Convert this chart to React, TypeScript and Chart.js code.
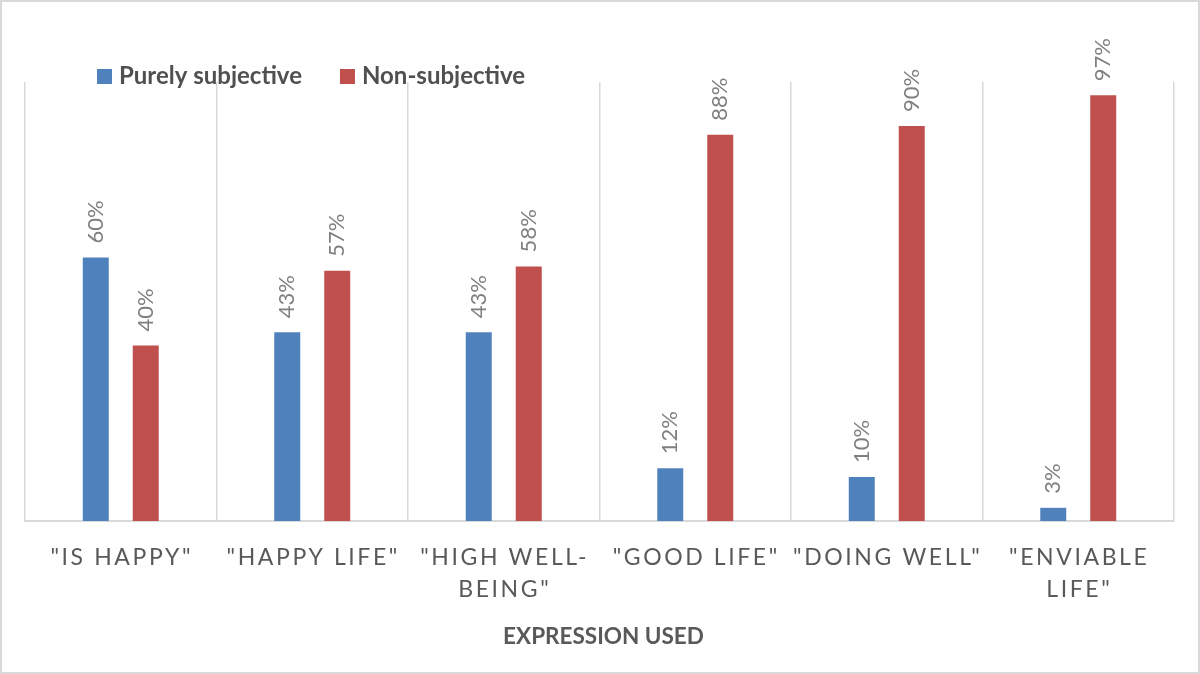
import React, { useEffect, useRef } from "react";
import { Chart, registerables } from "chart.js";
Chart.register(...registerables);

const categories: string[][] = [
  ['"IS HAPPY"'],
  ['"HAPPY LIFE"'],
  ['"HIGH WELL-', 'BEING"'],
  ['"GOOD LIFE"'],
  ['"DOING WELL"'],
  ['"ENVIABLE', 'LIFE"'],
];
const seriesNames = ["Purely subjective", "Non-subjective"];
const purelySubjective = [60, 43, 43, 12, 10, 3];
const nonSubjective = [40, 57, 58, 88, 90, 97];
const axisTitle = "EXPRESSION USED";

const BLUE = "#4F81BD";
const RED = "#C0504D";

const textPlugin = {
  id: "textPlugin",
  afterDatasetsDraw(chart: any) {
    const ctx: CanvasRenderingContext2D = chart.ctx;
    const area = chart.chartArea;
    // data labels
    chart.data.datasets.forEach((ds: any, di: number) => {
      const meta = chart.getDatasetMeta(di);
      meta.data.forEach((bar: any, i: number) => {
        const v = ds.data[i];
        ctx.save();
        ctx.translate(bar.x, bar.y - 14);
        ctx.rotate(-Math.PI / 2);
        ctx.font = "22px Lato";
        ctx.fillStyle = "#7f7f7f";
        ctx.textAlign = "left";
        ctx.textBaseline = "middle";
        ctx.fillText(v + "%", 0, 0);
        ctx.restore();
      });
    });
    // x labels
    const xs = chart.scales.x;
    ctx.save();
    ctx.font = "23px Lato";
    (ctx as any).letterSpacing = "2.6px";
    ctx.fillStyle = "#595959";
    ctx.textAlign = "center";
    ctx.textBaseline = "middle";
    categories.forEach((lines, i) => {
      const x = xs.getPixelForValue(i);
      lines.forEach((l, j) => {
        ctx.fillText(l, x + 1, area.bottom + 37 + j * 32);
      });
    });
    ctx.restore();
    // axis title
    ctx.save();
    ctx.font = "bold 22.5px Lato";
    ctx.fillStyle = "#595959";
    ctx.textAlign = "center";
    ctx.textBaseline = "middle";
    ctx.fillText(axisTitle, (area.left + area.right) / 2 + 4, 637);
    ctx.restore();
    // legend
    ctx.save();
    ctx.font = "bold 24px Lato";
    ctx.textAlign = "left";
    ctx.textBaseline = "middle";
    let x = 97;
    chart.data.datasets.forEach((ds: any) => {
      ctx.fillStyle = ds.backgroundColor;
      ctx.fillRect(x, 69, 15, 15);
      x += 22;
      ctx.fillStyle = "#505050";
      ctx.fillText(ds.label, x, 76);
      x += ctx.measureText(ds.label).width + 38;
    });
    ctx.restore();
  },
};

export default function App() {
  const ref = useRef<HTMLCanvasElement | null>(null);
  useEffect(() => {
    if (!ref.current) return;
    const chart = new Chart(ref.current, {
      type: "bar",
      data: {
        labels: categories.map((c) => c.join(" ")),
        datasets: [
          {
            label: seriesNames[0],
            data: purelySubjective,
            backgroundColor: BLUE,
            categoryPercentage: 0.522,
            barPercentage: 0.52,
          },
          {
            label: seriesNames[1],
            data: nonSubjective,
            backgroundColor: RED,
            categoryPercentage: 0.522,
            barPercentage: 0.52,
          },
        ],
      },
      options: {
        responsive: false,
        animation: false,
        layout: { padding: { left: 25, right: 26, top: 82, bottom: 153 } },
        plugins: { legend: { display: false }, tooltip: { enabled: false }, title: { display: false } },
        scales: {
          x: {
            offset: true,
            ticks: { display: false },
            grid: { display: true, color: "#d9d9d9", lineWidth: 1.5, drawTicks: false, offset: true },
            border: { display: true, color: "#d9d9d9", width: 2 },
          },
          y: { display: false, min: 0, max: 100 },
        },
      },
      plugins: [textPlugin],
    });
    return () => chart.destroy();
  }, []);
  return (
    <div style={{ position: "absolute", left: 0, top: 0, width: 1200, height: 674, background: "#fff" }}>
      <canvas ref={ref} width={1200} height={674} style={{ position: "absolute", left: 0, top: 0 }} />
      <div
        style={{
          position: "absolute",
          left: 0,
          top: 0,
          width: 1200,
          height: 674,
          boxSizing: "border-box",
          border: "2px solid #d9d9d9",
          pointerEvents: "none",
        }}
      />
    </div>
  );
}
